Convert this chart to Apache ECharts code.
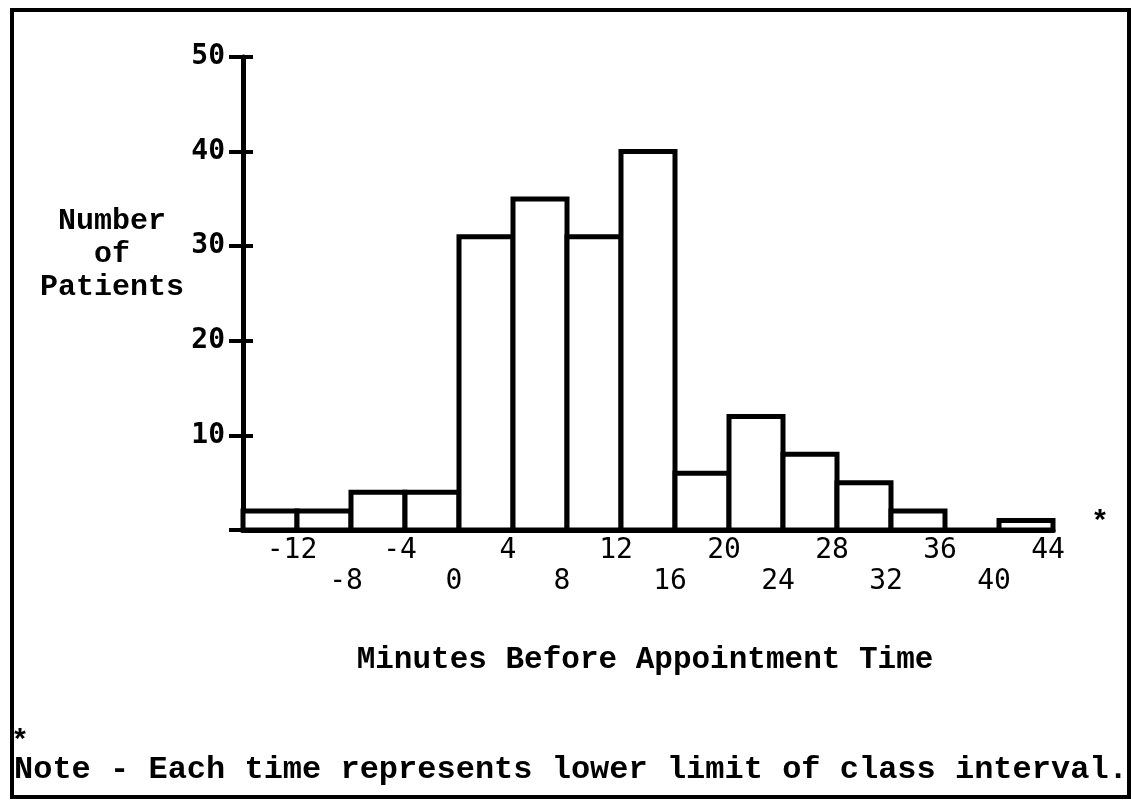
<!DOCTYPE html>
<html>
<head>
<meta charset="utf-8">
<script src="https://cdn.jsdelivr.net/npm/echarts@6/dist/echarts.min.js"></script>
<style>
html,body{margin:0;padding:0;background:#fff;}
#chart{width:1131px;height:801px;}
</style>
</head>
<body>
<div id="chart"></div>
<script>
// Data
var categories = ['-12','-8','-4','0','4','8','12','16','20','24','28','32','36','40','44'];
var patients = [2, 2, 4, 4, 31, 35, 31, 40, 6, 12, 8, 5, 2, 0, 1];
var yTicks = [0, 10, 20, 30, 40, 50];

var numFont = '"DejaVu Sans Mono", monospace';
var typeFont = '"Liberation Mono", "Courier New", monospace';

var barData = patients.map(function (v, i) { return [i, v]; });

var chart = echarts.init(document.getElementById('chart'), null, {renderer: 'canvas'});
var option = {
  backgroundColor: '#ffffff',
  animation: false,
  grid: {left: 243, right: 78, top: 57, bottom: 271, containLabel: false},
  xAxis: {
    type: 'category',
    data: categories,
    boundaryGap: true,
    axisLine: {show: true, lineStyle: {color: '#000', width: 5}},
    axisTick: {show: false},
    splitLine: {show: false},
    axisLabel: {
      interval: 0,
      margin: 5,
      color: '#000',
      fontFamily: numFont,
      fontSize: 28,
      lineHeight: 31,
      align: 'center',
      padding: [0, 0, 0, 44],
      formatter: function (v, i) { return i % 2 === 1 ? '\n' + v : v; }
    }
  },
  yAxis: [{
    type: 'value',
    min: yTicks[0],
    max: yTicks[yTicks.length - 1],
    interval: 10,
    axisLine: {show: true, lineStyle: {color: '#000', width: 5}},
    axisTick: {show: true, length: 14, lineStyle: {color: '#000', width: 4}},
    splitLine: {show: false},
    axisLabel: {
      show: true,
      margin: 18,
      color: '#000',
      fontFamily: numFont,
      fontWeight: 'bold',
      fontSize: 28,
      formatter: function (v) { return yTicks.indexOf(v) > 0 ? String(v) : ''; }
    }
  }, {
    type: 'value',
    position: 'left',
    min: yTicks[0],
    max: yTicks[yTicks.length - 1],
    interval: 10,
    axisLine: {show: false},
    axisTick: {show: true, inside: true, length: 10, lineStyle: {color: '#000', width: 4}},
    splitLine: {show: false},
    axisLabel: {show: false}
  }],
  series: [{
    type: 'custom',
    data: barData,
    yAxisIndex: 0,
    encode: {x: 0, y: 1},
    z: 3,
    renderItem: function (params, api) {
      var top = api.coord([api.value(0), api.value(1)]);
      var base = api.coord([api.value(0), 0]);
      var w = api.size([1, 0])[0];
      return {
        type: 'rect',
        shape: {x: top[0] - w / 2, y: top[1], width: w, height: base[1] - top[1]},
        style: {fill: '#ffffff', stroke: '#000', lineWidth: 5, lineJoin: 'miter'}
      };
    }
  }],
  graphic: [
    {type: 'rect', shape: {x: 12, y: 10, width: 1117, height: 787},
     style: {fill: 'none', stroke: '#000', lineWidth: 4}, silent: true},
    {type: 'text', x: 112, y: 205, style: {
      text: 'Number\nof\nPatients', fill: '#000', font: 'bold 30px ' + typeFont,
      align: 'center', verticalAlign: 'top', lineHeight: 33
    }},
    {type: 'text', x: 1100, y: 523, style: {
      text: '*', fill: '#000', font: 'bold 30px ' + typeFont, align: 'center', verticalAlign: 'middle'
    }},
    {type: 'text', x: 645, y: 660, style: {
      text: 'Minutes Before Appointment Time', fill: '#000', font: 'bold 31px ' + typeFont,
      align: 'center', verticalAlign: 'middle'
    }},
    {type: 'text', x: 20, y: 742, style: {
      text: '*', fill: '#000', font: 'bold 30px ' + typeFont, align: 'center', verticalAlign: 'middle'
    }},
    {type: 'text', x: 14, y: 770, style: {
      text: 'Note - Each time represents lower limit of class interval.', fill: '#000',
      font: 'bold 32px ' + typeFont, align: 'left', verticalAlign: 'middle'
    }}
  ]
};
chart.setOption(option);
</script>
</body>
</html>
